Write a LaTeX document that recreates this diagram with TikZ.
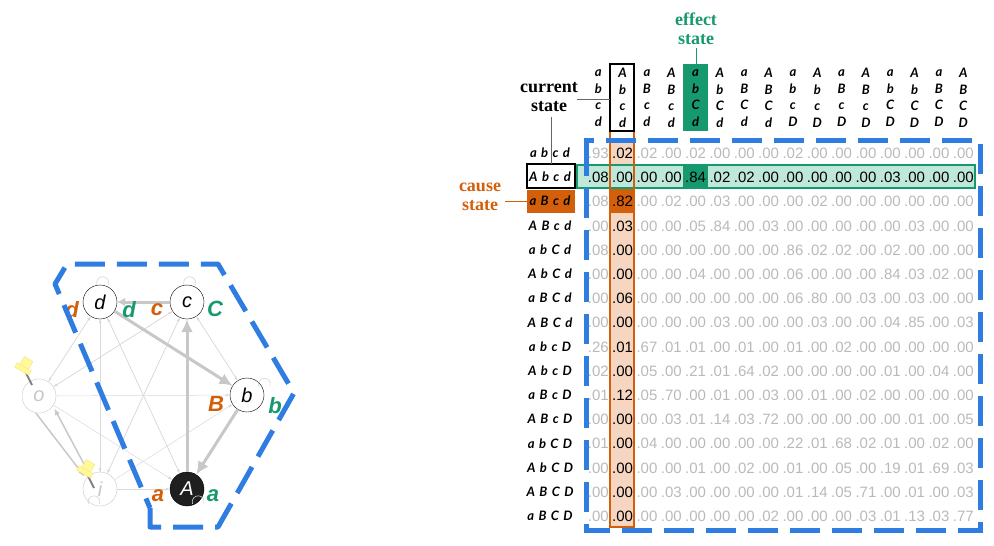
\documentclass[tikz,border=0pt]{standalone}
\usepackage{fontspec}
\setmainfont{Liberation Sans}
\newfontfamily\serifb{Liberation Serif}
\newfontfamily\labf{Lato}
\newfontfamily\rowf[LetterSpace=12]{Lato}
\usetikzlibrary{arrows.meta}
\definecolor{blu}{HTML}{2F7DE1}
\definecolor{ora}{HTML}{D45F0A}
\definecolor{peach}{HTML}{F6D6C0}
\definecolor{grn}{HTML}{17996F}
\definecolor{lgrn}{HTML}{BFE8DA}
\definecolor{edg}{HTML}{C8C8C8}
\def\myhsplit#1#2#3#4{#1\\#2\\#3\\#4}
\tikzset{
 num/.style={font=\fontsize{15}{15}\selectfont, inner sep=0pt, text=gray!55},
 numk/.style={num, text=black},
 lab/.style={font=\rowf\bfseries\itshape\fontsize{13}{13}\selectfont, inner sep=0pt},
 hlab/.style={font=\labf\bfseries\itshape\fontsize{13}{16.5}\selectfont, inner sep=0pt, align=center},
 ann/.style={font=\serifb\bfseries\fontsize{18}{19}\selectfont, align=center, inner sep=0pt},
 st/.style={circle, draw=black, minimum size=34pt, inner sep=0pt, font=\itshape\fontsize{20}{20}\selectfont, fill=white},
 gst/.style={st, draw=edg, text=edg},
 gl/.style={font=\bfseries\itshape\fontsize{22}{22}\selectfont, inner sep=0pt},
 e/.style={draw=edg!70, line width=0.5pt, -{Latex[length=4pt]}},
 E/.style={draw=edg, line width=3pt, -{Latex[length=13pt,width=12pt]}},
 bdash/.style={draw=blu, line width=5pt, dash pattern=on 30pt off 12pt},
}
\begin{document}
\begin{tikzpicture}[x=1pt,y=-1pt]
\useasboundingbox (0,0) rectangle (994,546);
% ---------- graph ----------
\node[st] (d) at (100,302) {d};
\node[st] (c) at (187,302) {c};
\node[st] (b) at (247,395) {b};
\node[st, fill=black!88, text=white] (A) at (187,489) {A};
\node[gst] (i) at (100,489) {i};
\node[gst] (o) at (39,396) {o};
\foreach \p/\q in {d/o,d/i,d/A,c/o,c/i,o/b,o/A,i/c,i/b,i/A,b/c,A/d,i/d,o/c,A/b,b/d,c/b,o/d}{
  \draw[e] (\p) -- (\q);}
\draw[E] (d) -- (b);
\draw[E] (A) -- (c);
\draw[E] (b) -- (A);
\draw[draw=edg, line width=3pt, -{Latex[length=8pt,width=9pt]}] (c) -- (d);
\draw[draw=edg, line width=1.5pt, -{Latex[length=7pt]}] ([xshift=3pt]i.north west) -- ([xshift=3pt]o.south east);
\draw[draw=edg, line width=1.5pt, -{Latex[length=7pt]}] ([xshift=-3pt]o.south) -- ([xshift=-3pt]i.north west);
\foreach \n/\a in {d/90,c/90,b/30,A/-60,i/-120}{
  \draw[edg!80, line width=0.6pt] (\n.\a) ++(-3,0) arc[start angle=200,end angle=-20,radius=6pt];}
% pushpins
\foreach \n/\px/\py in {pa/24/369,pb/86/472}{
  \draw[gray, line width=2pt] (\px,\py) -- (\px+8,\py+16);
  \fill[yellow!40, draw=yellow!60!orange!50, rotate around={-30:(\px,\py)}] (\px-6,\py-11) rectangle (\px+4,\py-2) (\px-9,\py-2) rectangle (\px+7,\py+3);
  \node[inner sep=0pt] (\n) at (\px,\py) {};}
% group labels
\node[gl, text=ora] (ld1) at (72,310) {d};
\node[gl, text=grn] (ld2) at (129,310) {d};
\node[gl, text=ora] (lc1) at (157,310) {c};
\node[gl, text=grn] (lc2) at (215,309) {C};
\node[gl, text=ora] (lb1) at (216,404) {B};
\node[gl, text=grn] (lb2) at (275,406) {b};
\node[gl, text=ora] (la1) at (158,496) {a};
\node[gl, text=grn] (la2) at (213,496) {a};
\draw[bdash, line join=round] (150,508) -- (150,527) -- (218,527) -- (294,393) -- (218,264) -- (67,264) -- (55,284) -- (150,508);
% ---------- matrix ----------
\fill[peach] (610,138) rectangle (634,527);
\fill[ora] (610,189) rectangle (634,213);
\fill[lgrn] (577,165) rectangle (975,188);
\fill[grn] (683,165) rectangle (708,188);
\fill[grn] (683,64) rectangle (708,131);
\draw[grn, line width=1.5pt] (577,165) rectangle (975,188);
\draw[ora, line width=1.5pt] (610,131) rectangle (634,527);
\draw[black, line width=1.5pt] (610,64) rectangle (634,131);
\draw[bdash] (586,146) -- (586,530) -- (980,530) -- (980,140) -- (586,140) -- cycle;
\foreach \cols [count=\c from 0] in {abcd,Abcd,aBcd,ABcd,abCd,AbCd,aBCd,ABCd,abcD,AbcD,aBcD,ABcD,abCD,AbCD,aBCD,ABCD}{
  \node[hlab] (h\c) at ({598.3+24.33*\c},98) {\expandafter\myhsplit\cols};
}
\foreach \r/\lb/\vals in {
0/{a b c d}/{.93,.02,.02,.00,.02,.00,.00,.00,.02,.00,.00,.00,.00,.00,.00,.00},
1/{A b c d}/{.08,.00,.00,.00,.84,.02,.02,.00,.00,.00,.00,.00,.03,.00,.00,.00},
2/{a B c d}/{.08,.82,.00,.02,.00,.03,.00,.00,.00,.02,.00,.00,.00,.00,.00,.00},
3/{A B c d}/{.00,.03,.00,.00,.05,.84,.00,.03,.00,.00,.00,.00,.00,.03,.00,.00},
4/{a b C d}/{.08,.00,.00,.00,.00,.00,.00,.00,.86,.02,.02,.00,.02,.00,.00,.00},
5/{A b C d}/{.00,.00,.00,.00,.04,.00,.00,.00,.06,.00,.00,.00,.84,.03,.02,.00},
6/{a B C d}/{.00,.06,.00,.00,.00,.00,.00,.00,.06,.80,.00,.03,.00,.03,.00,.00},
7/{A B C d}/{.00,.00,.00,.00,.00,.03,.00,.00,.00,.03,.00,.00,.04,.85,.00,.03},
8/{a b c D}/{.26,.01,.67,.01,.01,.00,.01,.00,.01,.00,.02,.00,.00,.00,.00,.00},
9/{A b c D}/{.02,.00,.05,.00,.21,.01,.64,.02,.00,.00,.00,.00,.01,.00,.04,.00},
10/{a B c D}/{.01,.12,.05,.70,.00,.01,.00,.03,.00,.01,.00,.02,.00,.00,.00,.00},
11/{A B c D}/{.00,.00,.00,.03,.01,.14,.03,.72,.00,.00,.00,.00,.00,.01,.00,.05},
12/{a b C D}/{.01,.00,.04,.00,.00,.00,.00,.00,.22,.01,.68,.02,.01,.00,.02,.00},
13/{A b C D}/{.00,.00,.00,.00,.01,.00,.02,.00,.01,.00,.05,.00,.19,.01,.69,.03},
14/{A B C D}/{.00,.00,.00,.03,.00,.00,.00,.00,.01,.14,.05,.71,.00,.01,.00,.03},
15/{a B C D}/{.00,.00,.00,.00,.00,.00,.00,.02,.00,.00,.00,.03,.01,.13,.03,.77}}{
  \ifnum\r=2 \else \node[lab] (r\r) at (550,{153+24.2*\r}) {\lb};\fi
  \foreach \v [count=\c from 0] in \vals {
    \ifnum\r=1 \def\sty{numk}\else\ifnum\c=1 \def\sty{numk}\else\def\sty{num}\fi\fi
    \node[\sty, anchor=base] (v\r-\c) at ({598.3+24.33*\c},{153+24.2*\r+5.5}) {\v};
  }
}
\draw[black, line width=1.5pt] (527,164) rectangle (575,188);
\fill[ora] (527,190) rectangle (575,213);
\node[lab] (r2) at (550,201) {a B c d};
\node[ann] (cur) at (549,97) {current\\state};
\node[ann, text=grn] (eff) at (696,29) {effect\\state};
\node[ann, text=ora] (cau) at (480,197) {cause\\state};
\draw[gray!80!black, line width=0.8pt] (577,99) -- (610,99);
\draw[gray!80!black, line width=0.8pt] (551,117) -- (551,164);
\draw[grn, line width=0.8pt] (696,48) -- (696,64);
\draw[ora, line width=0.8pt] (505,201) -- (527,201);
\end{tikzpicture}
\end{document}
